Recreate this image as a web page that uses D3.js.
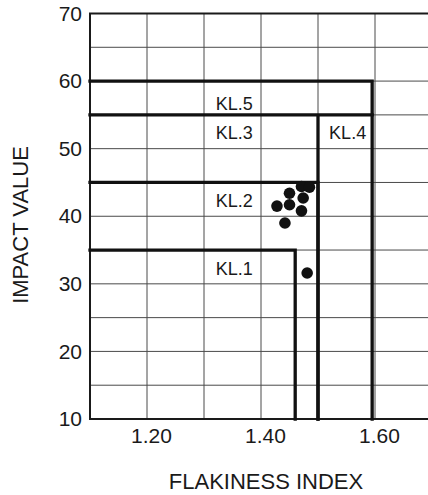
<!DOCTYPE html>
<html>
<head>
<meta charset="utf-8">
<script src="https://cdn.jsdelivr.net/npm/d3@7"></script>
<style>
  html, body { margin: 0; padding: 0; background: #fff; }
  svg { display: block; }
  text { font-family: "Liberation Sans", Arial, Helvetica, sans-serif; fill: #1a1a1a; }
</style>
</head>
<body>
<svg id="chart" width="428" height="495"></svg>
<script>
// ---- data ----
const xTickValues = [1.2, 1.4, 1.6];
const yTickValues = [10, 20, 30, 40, 50, 60, 70];
const xGridValues = [1.2, 1.3, 1.4, 1.5, 1.6, 1.7];
const yGridValues = [15, 20, 25, 30, 35, 40, 45, 50, 55, 60, 65];

// class limit lines (KL = Klasse)
const limitImpact = [35, 45, 55, 60];            // horizontal limit (impact value)
const limitFlakEnd = [1.46, 1.50, 1.595, 1.595]; // horizontal line extends to
const limitFlakVert = [1.46, 1.50, 1.50, 1.595]; // vertical limit (flakiness index)

const classNames = ["KL.1", "KL.2", "KL.3", "KL.4", "KL.5"];
const classLabelX = [1.353, 1.353, 1.353, 1.552, 1.353];
const classLabelY = [32.3, 42.3, 52.3, 52.3, 56.7];

// measured samples
const sampleFlak = [1.471, 1.485, 1.450, 1.474, 1.428, 1.450, 1.471, 1.442, 1.481];
const sampleImpact = [44.4, 44.3, 43.4, 42.7, 41.5, 41.7, 40.8, 39.0, 31.6];

const xTitle = "FLAKINESS INDEX";
const yTitle = "IMPACT VALUE";

// ---- chart ----
const svg = d3.select("#chart");
const mLeft = 90, mTop = 13.5, mBottom = 419;
const x = d3.scaleLinear().domain([1.1, 1.7]).range([mLeft, mLeft + 0.6 * 570]);
const y = d3.scaleLinear().domain([10, 70]).range([mBottom, mTop]);

// grid
const grid = svg.append("g");
grid.selectAll("line.v").data(xGridValues).join("line")
  .attr("class", "v")
  .attr("x1", d => x(d)).attr("x2", d => x(d))
  .attr("y1", y(70)).attr("y2", y(10))
  .attr("stroke", "#4a4a4a").attr("stroke-width", 1);
grid.selectAll("line.h").data(yGridValues).join("line")
  .attr("class", "h")
  .attr("x1", x(1.1)).attr("x2", x(1.7))
  .attr("y1", d => y(d)).attr("y2", d => y(d))
  .attr("stroke", "#4a4a4a").attr("stroke-width", 1);

// frame: left, top, bottom
svg.append("path")
  .attr("d", `M${x(1.7)},${y(70)}H${x(1.1)}V${y(10)}H${x(1.7)}`)
  .attr("fill", "none").attr("stroke", "#1a1a1a").attr("stroke-width", 2);

// class limit lines
const limits = limitImpact.map((v, i) => ({ v, end: limitFlakEnd[i], vert: limitFlakVert[i] }));
svg.append("g").selectAll("path").data(limits).join("path")
  .attr("d", d => `M${x(1.1)},${y(d.v)}H${x(d.end)}` +
                  `M${x(d.vert)},${y(d.v)}V${y(10)}`)
  .attr("fill", "none").attr("stroke", "#111").attr("stroke-width", 3.3)
  .attr("stroke-linecap", "square");

// class labels
svg.append("g").selectAll("text").data(classNames).join("text")
  .attr("x", (d, i) => x(classLabelX[i]))
  .attr("y", (d, i) => y(classLabelY[i]))
  .attr("dy", "0.35em")
  .attr("text-anchor", "middle")
  .attr("font-size", 18)
  .text(d => d);

// points
const pts = sampleFlak.map((f, i) => ({ f, v: sampleImpact[i] }));
svg.append("g").selectAll("circle").data(pts).join("circle")
  .attr("cx", d => x(d.f)).attr("cy", d => y(d.v))
  .attr("r", 5.8).attr("fill", "#111");

// axes (labels only)
const yAxis = svg.append("g").attr("transform", `translate(${mLeft},0)`)
  .call(d3.axisLeft(y).tickValues(yTickValues).tickSize(0).tickPadding(8).tickFormat(d3.format("d")));
yAxis.select(".domain").remove();
yAxis.selectAll("text").attr("font-size", 21).attr("font-family", null).attr("fill", "#1a1a1a");

const xAxis = svg.append("g").attr("transform", `translate(4,${mBottom})`)
  .call(d3.axisBottom(x).tickValues(xTickValues).tickSize(0).tickPadding(9).tickFormat(d3.format(".2f")));
xAxis.select(".domain").remove();
xAxis.selectAll("text").attr("font-size", 21).attr("font-family", null).attr("fill", "#1a1a1a");

// titles
svg.append("text")
  .attr("x", 266).attr("y", 489)
  .attr("text-anchor", "middle").attr("font-size", 22)
  .text(xTitle);
svg.append("text")
  .attr("transform", `translate(28,225) rotate(-90)`)
  .attr("text-anchor", "middle").attr("font-size", 22)
  .text(yTitle);
</script>
</body>
</html>
